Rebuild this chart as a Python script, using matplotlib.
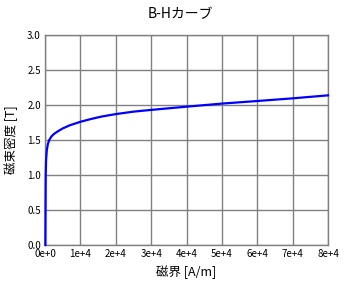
import matplotlib
matplotlib.use("Agg")
import matplotlib.pyplot as plt

plt.rcParams["font.family"] = ["Noto Sans CJK JP", "DejaVu Sans"]

# B-H curve
H = [100, 150, 200, 300, 500, 800, 1200, 1800, 2500, 3500, 5000, 7000,
     10000, 13000, 16000, 20000, 25000, 30000, 40000, 50000, 60000, 70000, 80000]
B = [0.0, 0.6, 1.0, 1.2, 1.35, 1.44, 1.50, 1.55, 1.585, 1.62, 1.665, 1.71,
     1.76, 1.80, 1.835, 1.87, 1.905, 1.93, 1.976, 2.02, 2.057, 2.095, 2.138]
xticks = [0, 10000, 20000, 30000, 40000, 50000, 60000, 70000, 80000]
xticklabels = ["0e+0", "1e+4", "2e+4", "3e+4", "4e+4", "5e+4", "6e+4", "7e+4", "8e+4"]
yticks = [0.0, 0.5, 1.0, 1.5, 2.0, 2.5, 3.0]

W, Hpx = 346, 288
fig = plt.figure(figsize=(W / 100, Hpx / 100), dpi=100)
ax = fig.add_axes([45 / W, 1 - 245 / Hpx, 283 / W, 210 / Hpx])

ax.plot(H, B, color="#0000ff", lw=1.6, zorder=3, clip_on=False)
ax.set_xlim(0, 80000)
ax.set_ylim(0, 3.0)
ax.set_xticks(xticks)
ax.set_xticklabels(xticklabels)
ax.set_yticks(yticks)
ax.set_yticklabels([f"{v:.1f}" for v in yticks])
ax.tick_params(length=0, labelsize=7, pad=3)
ax.grid(color="#808080", lw=1.0)
for s in ax.spines.values():
    s.set_color("#808080")
    s.set_linewidth(1.0)

fig.text(180 / W, 1 - 14 / Hpx, "B-Hカーブ", ha="center", va="center", fontsize=10)
fig.text(186 / W, 1 - 272 / Hpx, "磁界 [A/m]", ha="center", va="center", fontsize=9)
fig.text(11 / W, 1 - 140 / Hpx, "磁束密度 [T]", ha="center", va="center",
         rotation=90, fontsize=9)

fig.savefig("out.png", dpi=100)
